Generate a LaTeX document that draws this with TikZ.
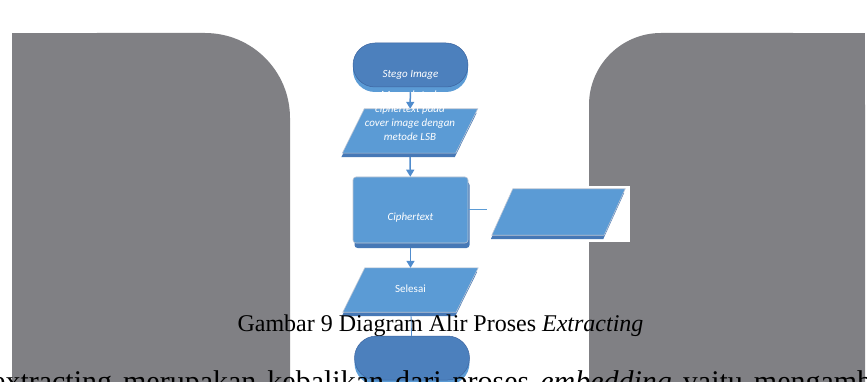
\documentclass[tikz,border=0pt]{standalone}
\usepackage{fontspec}
\setmainfont{Liberation Serif}
\newfontfamily\calib{Carlito}
\usetikzlibrary{shapes.geometric,shadows,arrows.meta}
\definecolor{greyc}{RGB}{128,128,132}
\definecolor{pblue}{RGB}{91,155,213}
\definecolor{tblue}{RGB}{76,128,189}
\definecolor{tedge}{RGB}{60,100,160}
\definecolor{sblue}{RGB}{70,120,182}
\definecolor{edgec}{RGB}{190,198,212}
\definecolor{arrc}{RGB}{80,140,205}
\pgfdeclarelayer{back}
\pgfdeclarelayer{shapes}
\pgfsetlayers{back,shapes,main}
% parallelogram drawn behind a named rectangular node: #1 name, #2 half slant (pt)
\newcommand\parashape[2]{%
  \begin{pgfonlayer}{shapes}
    \fill[sblue] ([xshift=#2pt-1pt, yshift=-4pt]#1.north west) -- ([xshift=#2pt-1pt, yshift=-4pt]#1.north east)
      -- ([xshift=-#2pt-1pt, yshift=-4pt]#1.south east) -- ([xshift=-#2pt-1pt, yshift=-4pt]#1.south west) -- cycle;
    \filldraw[fill=pblue, draw=edgec, line width=0.6pt]
      ([xshift=#2pt]#1.north west) -- ([xshift=#2pt]#1.north east)
      -- ([xshift=-#2pt]#1.south east) -- ([xshift=-#2pt]#1.south west) -- cycle;
  \end{pgfonlayer}}
\begin{document}
\begin{tikzpicture}[x=1pt,y=-1pt,
  term/.style={rectangle, rounded corners=22pt, minimum width=115pt, minimum height=44pt,
    inner sep=0pt, fill=tblue, draw=tedge, line width=0.5pt,
    general shadow={fill=pblue, shadow yshift=-5pt}},
  parabox/.style={rectangle, minimum width=113pt, minimum height=44pt, inner sep=0pt},
  procbox/.style={rectangle, rounded corners=3pt, minimum width=115pt, minimum height=66pt,
    inner sep=0pt, fill=pblue, draw=edgec, line width=0.6pt,
    general shadow={fill=sblue, shadow xshift=1.5pt, shadow yshift=-5pt}},
  ftxt/.style={text=white, font=\calib\itshape\fontsize{11}{14}\selectfont},
  fup/.style={text=white, font=\calib\fontsize{11}{14}\selectfont},
  flow/.style={draw=arrc, line width=1.5pt, -{Triangle[width=8pt,length=7pt]}},
  conn/.style={draw=pblue, line width=1pt},
  thinconn/.style={draw=arrc, line width=0.8pt}
]
\useasboundingbox (0,0) rectangle (867,382);
\clip (0,0) rectangle (867,382);
\begin{pgfonlayer}{back}
\fill[white] (0,0) rectangle (867,382);
\fill[greyc, rounded corners=85pt] (12,33) rectangle (290,600);
\fill[greyc] (12,33) rectangle (150,600);
\fill[greyc] (12,200) rectangle (290,600);
\fill[greyc, rounded corners=72pt] (589,33) rectangle (865,600);
\fill[greyc] (700,33) rectangle (865,600);
\fill[greyc] (589,200) rectangle (865,600);
\fill[white] (487,186) rectangle (630,242);
\end{pgfonlayer}
% flowchart
\node[term, ftxt, text height=26pt, text depth=0pt] (start) at (410.5,65) {Stego Image};
\node[parabox, ftxt, align=center, text height=20pt, text depth=0pt] (p1) at (410,131)
  {Mengekstrak\\ciphertext pada\\cover image dengan\\metode LSB};
\parashape{p1}{11}
\node[procbox, ftxt, text height=22pt, text depth=0pt] (box) at (410.5,210) {Ciphertext};
\node[parabox, minimum width=112pt, minimum height=46pt] (out) at (558.5,212) {};
\parashape{out}{10.5}
\coordinate (outend) at (487,210);
\node[parabox, fup, text height=5pt, text depth=0pt] (p3) at (410.5,290) {Selesai};
\parashape{p3}{11}
\draw[flow, shorten <=5pt] (start) -- (p1);
\draw[flow, shorten <=4pt] (p1) -- (box);
\draw[flow, shorten <=5pt] (box) -- (p3);
\draw[conn] (box.east) -- (outend);
% caption
\node[anchor=base, inner sep=0pt, font=\fontsize{24}{28}\selectfont] (cap) at (440.5,331) {Gambar 9 Diagram Alir Proses \textit{Extracting}};
\node[term] (end) at (412,358) {};
\draw[thinconn, shorten <=4pt] (p3) -- (end);
% body text (cut off at the bottom)
\node[anchor=base west, inner sep=0pt, font=\fontsize{30}{36}\selectfont] (body) at (-8,391) {\spaceskip=11pt extracting merupakan kebalikan dari proses \textit{embedding} yaitu mengambil};
\end{tikzpicture}
\end{document}
